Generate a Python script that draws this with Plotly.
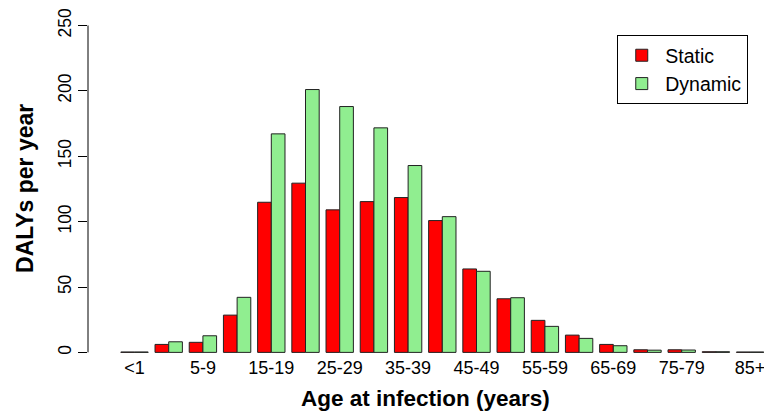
import plotly.graph_objects as go

categories = ["<1", "1-4", "5-9", "10-14", "15-19", "20-24", "25-29", "30-34", "35-39",
              "40-44", "45-49", "50-54", "55-59", "60-64", "65-69", "70-74", "75-79",
              "80-84", "85+"]
static = [0.3, 6.1, 7.7, 28.5, 114.8, 129.4, 109.0, 115.3, 118.4, 100.8, 63.8, 41.0,
          24.5, 13.2, 6.1, 2.0, 2.0, 0.5, 0.3]
dynamic = [0.3, 8.1, 12.7, 42.1, 167.1, 201.0, 188.0, 171.7, 142.9, 103.8, 62.0, 41.8,
           19.9, 10.7, 5.1, 1.7, 1.8, 0.5, 0.3]
x_ticklabels = categories[::2]
y_ticks = [0, 50, 100, 150, 200, 250]

FONT = "Liberation Sans, Arial, sans-serif"

fig = go.Figure()
fig.add_trace(go.Bar(name="Static", x=categories, y=static,
                     marker=dict(color="#FF0000", line=dict(color="#222222", width=1))))
fig.add_trace(go.Bar(name="Dynamic", x=categories, y=dynamic,
                     marker=dict(color="#90EE90", line=dict(color="#222222", width=1))))

# page has an 8px body margin, so the figure is sized to the remaining viewport
fig.update_layout(
    width=764, height=406,
    margin=dict(l=80, r=0, t=7, b=59, autoexpand=False),
    paper_bgcolor="white", plot_bgcolor="white",
    barmode="group", bargap=0.2, bargroupgap=0,
    font=dict(family=FONT, color="black"),
    showlegend=True,
    legend=dict(x=0.9653, y=0.941, xanchor="right", yanchor="top",
                bordercolor="black", borderwidth=1, bgcolor="white",
                font=dict(size=19.5, family=FONT), itemwidth=37,
                tracegroupgap=0),
    xaxis=dict(type="category", range=[-1.36, 18.64], showline=False, showgrid=False,
               zeroline=False, ticks="", tickmode="array",
               tickvals=x_ticklabels, ticktext=x_ticklabels,
               ticklabeloverflow="allow",
               tickfont=dict(size=18, family=FONT)),
    yaxis=dict(range=[-2, 258], showline=False, showgrid=False, zeroline=False,
               ticks="outside", ticklen=9, tickcolor="black", tickwidth=1,
               tickmode="array", tickvals=y_ticks, ticktext=[str(v) for v in y_ticks],
               ticklabeloverflow="allow",
               tickangle=-90, tickfont=dict(size=17.5, family=FONT)),
    annotations=[
        dict(text="<b>Age at infection (years)</b>", xref="paper", yref="paper",
             x=0.4927, y=0, xanchor="center", yanchor="middle", yshift=-43,
             showarrow=False, font=dict(size=22.5, family=FONT)),
        dict(text="<b>DALYs per year</b>", xref="paper", yref="y",
             x=0, y=(y_ticks[0] + y_ticks[-1]) / 2, xanchor="center", yanchor="middle",
             xshift=-63, textangle=-90,
             showarrow=False, font=dict(size=23, family=FONT)),
    ],
)

# y-axis line spanning the tick range only (as in base R)
fig.add_shape(type="line", xref="paper", yref="y", x0=0, x1=0, y0=y_ticks[0], y1=y_ticks[-1],
              line=dict(color="black", width=1))

fig.write_html("out.html")
